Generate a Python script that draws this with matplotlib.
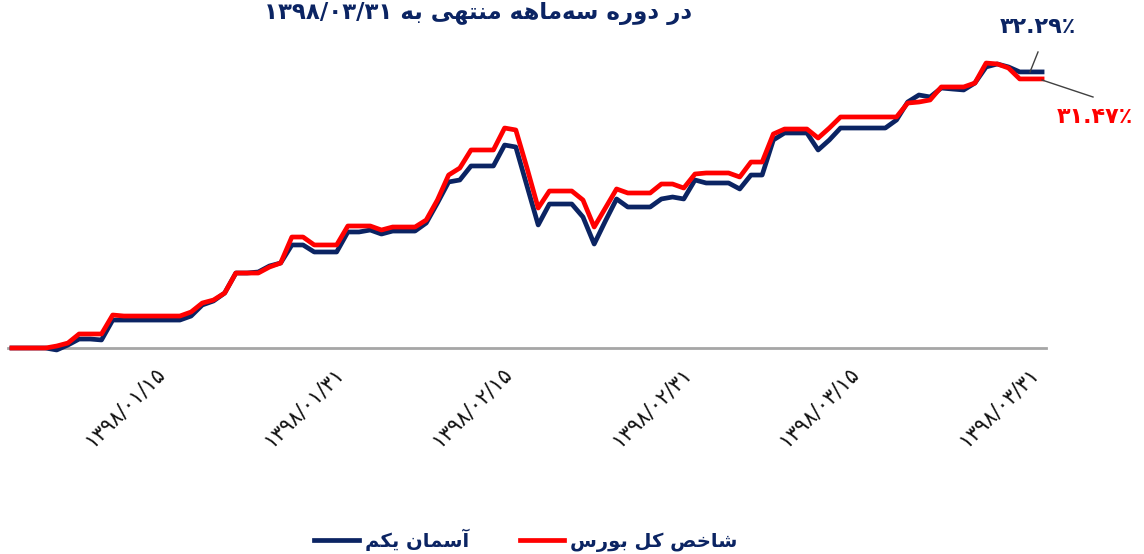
import matplotlib
matplotlib.use('Agg')
import matplotlib.pyplot as plt
from matplotlib.lines import Line2D

# ---------------- data ----------------
# day index: 0 = 1398/01/01 ... 92 = 1398/03/31
days = list(range(93))
tick_days = [14, 30, 45, 61, 76, 92]
tick_labels = ['۱۳۹۸/۰۱/۱۵', '۱۳۹۸/۰۱/۳۱', '۱۳۹۸/۰۲/۱۵',
               '۱۳۹۸/۰۲/۳۱', '۱۳۹۸/۰۳/۱۵', '۱۳۹۸/۰۳/۳۱']

# cumulative return (%) - Aseman Yekom fund
aseman = [0, 0, 0, 0, -0.23, 0.35, 1.05, 1.05, 0.94, 3.27,
          3.27, 3.27, 3.27, 3.27, 3.27, 3.27, 3.74, 5.03, 5.50, 6.43,
          8.77, 8.77, 8.89, 9.59, 9.94, 12.05, 12.05, 11.23, 11.23, 11.23,
          13.57, 13.57, 13.80, 13.33, 13.68, 13.68, 13.68, 14.62, 16.96, 19.42,
          19.65, 21.29, 21.29, 21.29, 23.74, 23.51, 18.95, 14.39, 16.84, 16.84,
          16.84, 15.32, 12.16, 14.85, 17.43, 16.49, 16.49, 16.49, 17.43, 17.66,
          17.43, 19.65, 19.30, 19.30, 19.30, 18.60, 20.23, 20.23, 24.33, 25.15,
          25.15, 25.15, 23.16, 24.33, 25.73, 25.73, 25.73, 25.73, 25.73, 26.67,
          28.77, 29.59, 29.36, 30.41, 30.29, 30.18, 30.99, 32.87, 33.22, 32.87,
          32.29, 32.29, 32.29]

# cumulative return (%) - TEDPIX (total index)
bourse = [0, 0, 0, 0, 0.23, 0.58, 1.64, 1.64, 1.64, 3.86,
          3.74, 3.74, 3.74, 3.74, 3.74, 3.74, 4.21, 5.26, 5.61, 6.43,
          8.77, 8.77, 8.77, 9.47, 9.94, 12.98, 12.98, 12.05, 12.05, 12.05,
          14.27, 14.27, 14.27, 13.80, 14.15, 14.15, 14.15, 14.97, 17.31, 20.23,
          21.05, 23.16, 23.16, 23.16, 25.73, 25.50, 21.05, 16.37, 18.36, 18.36,
          18.36, 17.31, 14.15, 16.37, 18.60, 18.13, 18.13, 18.13, 19.18, 19.18,
          18.71, 20.35, 20.47, 20.47, 20.47, 20.00, 21.75, 21.75, 25.03, 25.61,
          25.61, 25.61, 24.56, 25.73, 27.02, 27.02, 27.02, 27.02, 27.02, 27.02,
          28.65, 28.77, 29.01, 30.53, 30.53, 30.53, 30.99, 33.33, 33.22, 32.75,
          31.47, 31.47, 31.47]

series_names = ['آسمان یکم', 'شاخص کل بورس']
end_labels = ['۳۲.۲۹٪', '۳۱.۴۷٪']
title_text = 'در دوره سه‌ماهه منتهی به'
title_date = '۱۳۹۸/۰۳/۳۱'

# ---------------- simple Persian shaping (matplotlib has no RTL shaping) ----------------
FORMS = {
    '\u0627': ('\uFE8D', '\uFE8E', None, None),      # ا
    '\u0622': ('\uFE81', '\uFE82', None, None),      # آ
    '\u0628': ('\uFE8F', '\uFE90', '\uFE91', '\uFE92'),  # ب
    '\u062A': ('\uFE95', '\uFE96', '\uFE97', '\uFE98'),  # ت
    '\u062E': ('\uFEA5', '\uFEA6', '\uFEA7', '\uFEA8'),  # خ
    '\u062F': ('\uFEA9', '\uFEAA', None, None),      # د
    '\u0631': ('\uFEAD', '\uFEAE', None, None),      # ر
    '\u0633': ('\uFEB1', '\uFEB2', '\uFEB3', '\uFEB4'),  # س
    '\u0634': ('\uFEB5', '\uFEB6', '\uFEB7', '\uFEB8'),  # ش
    '\u0635': ('\uFEB9', '\uFEBA', '\uFEBB', '\uFEBC'),  # ص
    '\u06A9': ('\uFB8E', '\uFB8F', '\uFB90', '\uFB91'),  # ک
    '\u0644': ('\uFEDD', '\uFEDE', '\uFEDF', '\uFEE0'),  # ل
    '\u0645': ('\uFEE1', '\uFEE2', '\uFEE3', '\uFEE4'),  # م
    '\u0646': ('\uFEE5', '\uFEE6', '\uFEE7', '\uFEE8'),  # ن
    '\u0647': ('\uFEE9', '\uFEEA', '\uFEEB', '\uFEEC'),  # ه
    '\u0648': ('\uFEED', '\uFEEE', None, None),      # و
    '\u06CC': ('\uFBFC', '\uFBFD', '\uFBFE', '\uFBFF'),  # ی
}


def rtl(s):
    chars = list(s)
    out = []
    for k, c in enumerate(chars):
        if c not in FORMS:
            if c == '\u200c':
                continue
            out.append(c)
            continue
        prev = chars[k - 1] if k > 0 else None
        nxt = chars[k + 1] if k + 1 < len(chars) else None
        jp = prev in FORMS and FORMS[prev][2] is not None
        jn = nxt in FORMS and FORMS[c][2] is not None
        iso, fin, ini, med = FORMS[c]
        if jp and jn:
            out.append(med)
        elif jp:
            out.append(fin)
        elif jn:
            out.append(ini)
        else:
            out.append(iso)
    return ''.join(reversed(out))


# ---------------- plot ----------------
NAVY = '#0B2463'
RED = '#FF0000'
W, H = 1144, 554

plt.rcParams['font.family'] = ['DejaVu Sans']
fig = plt.figure(figsize=(W / 100, H / 100), dpi=100)
ax = fig.add_axes([8 / W, (H - 360) / H, (1046 - 8) / W, 320 / H])

ax.plot(days, aseman, color=NAVY, lw=3.4, solid_joinstyle='round', zorder=3)
ax.plot(days, bourse, color=RED, lw=3.4, solid_joinstyle='round', zorder=4)

ax.set_xlim(-0.35, 92.35)
ax.set_ylim(-12 / 8.55, 308 / 8.55)
for s in ['top', 'right', 'left']:
    ax.spines[s].set_visible(False)
ax.spines['bottom'].set_position(('data', 0))
ax.spines['bottom'].set_color('#A6A6A6')
ax.spines['bottom'].set_linewidth(2.0)
ax.set_yticks([])
ax.set_xticks(tick_days)
ax.set_xticklabels(tick_labels, rotation=45, ha='right', va='top',
                   fontsize=15, color='#111111')
ax.tick_params(axis='x', length=0, pad=11)

# title (second line of the chart title, at the top edge)
fig.text(478 / W, 1 - 19 / H, title_date + ' ' + rtl(title_text),
         ha='center', va='baseline', fontsize=16.5, fontweight='bold', color=NAVY)

# end labels with leader lines
fig.text(1038 / W, 1 - 33 / H, end_labels[0], ha='center', va='baseline',
         fontsize=16, fontweight='bold', color=NAVY)
fig.text(1095 / W, 1 - 123 / H, end_labels[1], ha='center', va='baseline',
         fontsize=16, fontweight='bold', color=RED)
fig.add_artist(Line2D([1038 / W, 1030 / W], [1 - 52 / H, 1 - 72 / H],
                      color='#404040', lw=1.0))
fig.add_artist(Line2D([1042 / W, 1093 / W], [1 - 80 / H, 1 - 97 / H],
                      color='#404040', lw=1.0))

# legend
handles = [Line2D([], [], color=NAVY, lw=3.4), Line2D([], [], color=RED, lw=3.4)]
fig.legend(handles, [rtl(n) for n in series_names], loc='center',
           bbox_to_anchor=(526 / W, 1 - 540 / H), ncol=2, frameon=False,
           prop={'size': 14, 'weight': 'bold'}, labelcolor=NAVY,
           handlelength=2.3, handletextpad=0.3, columnspacing=2.6)

fig.savefig('out.png', dpi=100)
